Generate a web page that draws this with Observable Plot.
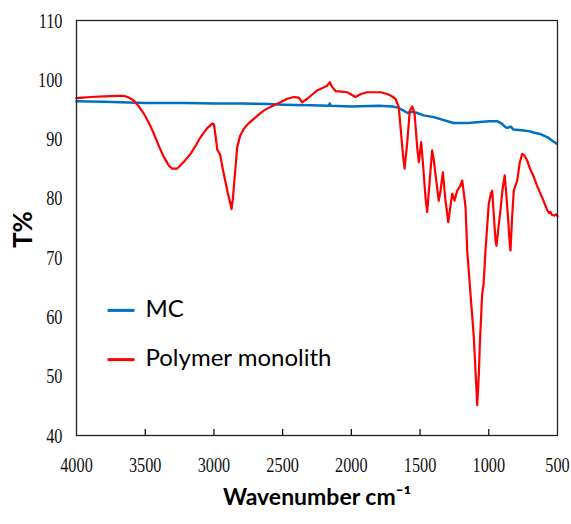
<!DOCTYPE html>
<html>
<head>
<meta charset="utf-8">
<script src="https://cdn.jsdelivr.net/npm/d3@7"></script>
<script src="https://cdn.jsdelivr.net/npm/@observablehq/plot@0.6"></script>
<style>
  html, body { margin: 0; padding: 0; background: #fff; }
</style>
</head>
<body>
<div id="chart"></div>
<script>
// ---- Data ----
const xTicks = [4000, 3500, 3000, 2500, 2000, 1500, 1000, 500];
const yTicks = [40, 50, 60, 70, 80, 90, 100, 110];

const mcWn = [4000, 3800, 3500, 3200, 3000, 2800, 2600, 2500, 2300, 2165, 2157, 2150, 2000, 1800, 1700, 1660, 1620, 1590, 1560, 1520, 1475, 1400, 1300, 1256, 1150, 1000, 936, 905, 880, 863, 840, 820, 760, 700, 674, 620, 572, 530, 505];
const mcT  = [96.4, 96.3, 96.1, 96.1, 96.0, 96.0, 95.9, 95.8, 95.7, 95.6, 96.0, 95.6, 95.5, 95.6, 95.5, 95.3, 94.8, 94.4, 94.6, 94.4, 94.0, 93.7, 93.0, 92.7, 92.7, 93.0, 93.0, 92.6, 92.0, 91.9, 92.1, 91.6, 91.5, 91.3, 91.1, 90.8, 90.3, 89.6, 89.2];

const polyWn = [4000, 3950, 3900, 3800, 3700, 3656, 3620, 3583, 3550, 3510, 3470, 3437, 3400, 3365, 3330, 3304, 3270, 3256, 3210, 3170, 3130, 3098, 3050, 3013, 3000, 2985, 2976, 2965, 2955, 2940, 2928, 2900, 2880, 2872, 2862, 2855, 2840, 2831, 2810, 2783, 2750, 2710, 2670, 2637, 2600, 2540, 2516, 2467, 2419, 2382, 2358, 2321, 2280, 2249, 2210, 2176, 2157, 2140, 2115, 2070, 2030, 1970, 1930, 1885, 1788, 1740, 1715, 1679, 1655, 1638, 1625, 1613, 1594, 1575, 1557, 1540, 1521, 1509, 1492, 1477, 1460, 1448, 1430, 1412, 1400, 1388, 1364, 1351, 1334, 1315, 1295, 1280, 1266, 1249, 1230, 1210, 1193, 1169, 1157, 1133, 1109, 1084, 1072, 1065, 1048, 1038, 1024, 1000, 985, 975, 963, 951, 944, 930, 915, 900, 884, 872, 862, 848, 842, 830, 818, 793, 775, 757, 740, 721, 700, 672, 650, 624, 600, 575, 560, 551, 540, 522, 510, 500];
const polyT  = [96.9, 97.0, 97.1, 97.2, 97.3, 97.3, 97.0, 96.5, 95.6, 94.3, 92.6, 90.9, 88.8, 87.0, 85.6, 85.0, 85.0, 85.3, 86.4, 87.5, 89.0, 90.3, 91.8, 92.6, 92.5, 90.0, 88.2, 87.8, 87.4, 85.5, 84.1, 81.0, 79.1, 78.2, 80.0, 81.9, 86.0, 88.6, 90.5, 91.7, 92.6, 93.4, 94.2, 94.8, 95.3, 95.95, 96.2, 96.8, 97.1, 97.0, 96.2, 96.8, 97.6, 98.2, 98.6, 99.0, 99.6, 98.8, 98.1, 98.0, 97.9, 97.1, 97.6, 97.9, 97.9, 97.6, 97.35, 96.8, 95.4, 90.9, 87.5, 85.0, 89.2, 94.8, 95.5, 94.3, 88.6, 86.1, 89.5, 85.3, 80.0, 77.7, 83.0, 88.1, 86.5, 84.1, 79.6, 81.3, 84.4, 79.6, 76.0, 78.5, 80.8, 79.6, 81.3, 82.0, 83.0, 78.5, 71.2, 63.9, 56.6, 45.1, 50.5, 55.5, 63.9, 65.5, 71.2, 79.1, 80.8, 81.3, 77.0, 72.9, 72.0, 75.0, 78.0, 81.5, 83.9, 80.5, 77.4, 72.5, 71.2, 77.0, 81.3, 83.0, 86.0, 87.5, 87.2, 86.4, 85.0, 83.6, 82.2, 80.8, 79.5, 78.0, 77.5, 77.7, 77.2, 77.1, 77.3, 77.0];

const seriesNames  = ["MC", "Polymer monolith"];
const seriesColors = ["#0070C0", "#FF0000"];
const legendY = [61.1, 52.8];

// ---- Tables built from the arrays ----
const mcData = mcWn.map((w, i) => ({wn: w, t: mcT[i]}));
const polyData = polyWn.map((w, i) => ({wn: w, t: polyT[i]}));
const legendData = seriesNames.map((n, i) => ({name: n, color: seriesColors[i], y: legendY[i]}));

const chart = Plot.plot({
  width: 571,
  height: 524,
  marginLeft: 76,
  marginRight: 14,
  marginTop: 20,
  marginBottom: 89,
  style: {background: "#fff", fontFamily: "Liberation Serif", fontSize: "22px", color: "#000"},
  x: {domain: [4000, 500]},
  y: {domain: [40, 110]},
  marks: [
    Plot.axisX({ticks: xTicks, tickSize: 0, tickPadding: 21, tickFormat: d => String(d), label: null, fontSize: 22, fontFamily: "Liberation Serif", fill: "#111"}),
    Plot.axisY({ticks: yTicks, tickSize: 0, tickPadding: 14, tickFormat: d => String(d), label: null, fontSize: 22, fontFamily: "Liberation Serif", fill: "#111"}),
    Plot.ruleX(xTicks.slice(1, -1), {stroke: "#000", strokeWidth: 1.2, insetTop: 409}),
    Plot.line(mcData, {x: "wn", y: "t", stroke: seriesColors[0], strokeWidth: 2.5}),
    Plot.line(polyData, {x: "wn", y: "t", stroke: seriesColors[1], strokeWidth: 2.2}),
    Plot.link(legendData, {x1: 3774, x2: 3578, y1: "y", y2: "y", stroke: "color", strokeWidth: 3}),
    Plot.text(legendData, {x: 3498, y: "y", text: "name", textAnchor: "start", lineAnchor: "middle", fontFamily: "Lato", fontSize: 24, fill: "#000", dy: -1}),
    Plot.text(["T%"], {frameAnchor: "left", dx: -53, dy: 20, rotate: -90, text: d => d, fontFamily: "Lato", fontWeight: "bold", fontSize: 26, fill: "#000"}),
    Plot.text(["Wavenumber cm\u207B\u00B9"], {frameAnchor: "bottom", dy: 69, text: d => d, fontFamily: "Lato", fontWeight: "bold", fontSize: 23, fill: "#000"}),
    Plot.frame({stroke: "#222", strokeWidth: 1.3})
  ]
});

document.getElementById("chart").appendChild(chart);

// condense the serif tick labels horizontally, like the original
chart.querySelectorAll('g[aria-label="x-axis tick label"] text, g[aria-label="y-axis tick label"] text').forEach(t => {
  let tr = t.getAttribute("transform");
  if (!tr) {
    const x = t.getAttribute("x") || 0, y = t.getAttribute("y") || 0;
    tr = `translate(${x},${y})`;
    t.removeAttribute("x"); t.removeAttribute("y");
  }
  t.setAttribute("transform", tr + " scale(0.74,1)");
});
</script>
</body>
</html>
